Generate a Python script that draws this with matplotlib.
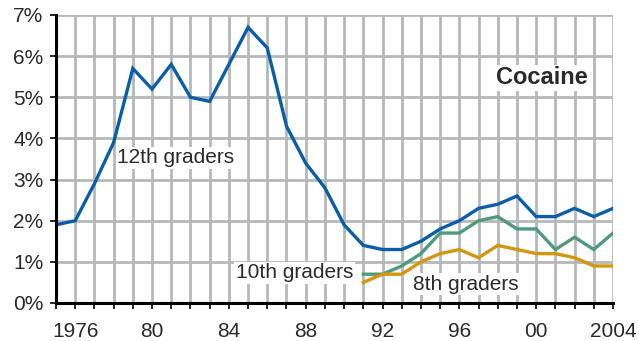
import matplotlib
matplotlib.use("Agg")
import matplotlib.pyplot as plt
import numpy as np

plt.rcParams['font.family'] = ['Liberation Sans', 'DejaVu Sans']

years12 = list(range(1975, 2005))
grade12 = [1.9, 2.0, 2.9, 3.9, 5.7, 5.2, 5.8, 5.0, 4.9, 5.8, 6.7, 6.2, 4.3, 3.4, 2.8,
           1.9, 1.4, 1.3, 1.3, 1.5, 1.8, 2.0, 2.3, 2.4, 2.6, 2.1, 2.1, 2.3, 2.1, 2.3]
years_low = list(range(1991, 2005))
grade10 = [0.7, 0.7, 0.9, 1.2, 1.7, 1.7, 2.0, 2.1, 1.8, 1.8, 1.3, 1.6, 1.3, 1.7]
grade8 = [0.5, 0.7, 0.7, 1.0, 1.2, 1.3, 1.1, 1.4, 1.3, 1.2, 1.2, 1.1, 0.9, 0.9]
xtick_years = [1976, 1980, 1984, 1988, 1992, 1996, 2000, 2004]
xtick_labels = ["1976", "80", "84", "88", "92", "96", "00", "2004"]
ytick_vals = list(range(0, 8))
ytick_labels = [f"{v}%" for v in ytick_vals]

fig = plt.figure(figsize=(6.39, 3.41), dpi=100)
ax = fig.add_axes([56 / 639, 38 / 341, (613 - 56) / 639, (303 - 15) / 341])

# grid
for y in range(1975, 2005):
    ax.axvline(y, color='#b5b8ba', lw=2.0, zorder=1)
for v in ytick_vals:
    ax.axhline(v, color='#b5b8ba', lw=2.0, zorder=1)

ax.plot(years12, grade12, color='#0a5ea8', lw=2.4, zorder=3, solid_joinstyle='miter')
ax.plot(years_low, grade10, color='#4f9a7c', lw=2.4, zorder=3, solid_joinstyle='miter')
ax.plot(years_low, grade8, color='#d3960f', lw=2.4, zorder=3, solid_joinstyle='miter')

ax.set_xlim(1975, 2004)
ax.set_ylim(0, 7)

for s in ['top', 'right']:
    ax.spines[s].set_visible(False)
ax.spines['left'].set_linewidth(2.2)
ax.spines['bottom'].set_linewidth(2.2)
ax.spines['left'].set_zorder(4)
ax.spines['bottom'].set_zorder(4)

txt = '#2a2a2a'
ax.set_xticks(range(1975, 2005), minor=True)
ax.set_xticks(xtick_years)
ax.set_xticklabels(xtick_labels, fontsize=15, color=txt)
ax.tick_params(axis='x', which='both', length=4, width=1.2, direction='out', pad=10)
ax.set_yticks(ytick_vals)
ax.set_yticklabels(ytick_labels, fontsize=15, color=txt)
ax.tick_params(axis='y', length=4, width=1.2, direction='out', pad=5)

bb = dict(facecolor='white', edgecolor='none', pad=1.0)
ax.text(1978.2, 3.53, "12th graders", fontsize=15, color=txt, ha='left', va='center', bbox=bb, zorder=5)
ax.text(1990.47, 0.73, "10th graders", fontsize=15, color=txt, ha='right', va='center', bbox=bb, zorder=5)
ax.text(1993.6, 0.46, "8th graders", fontsize=15, color=txt, ha='left', va='center', bbox=bb, zorder=5)
ax.text(2000.3, 5.47, "Cocaine", fontsize=17, fontweight='bold', color=txt, ha='center', va='center', bbox=bb, zorder=5)

fig.savefig("out.png", dpi=100)
